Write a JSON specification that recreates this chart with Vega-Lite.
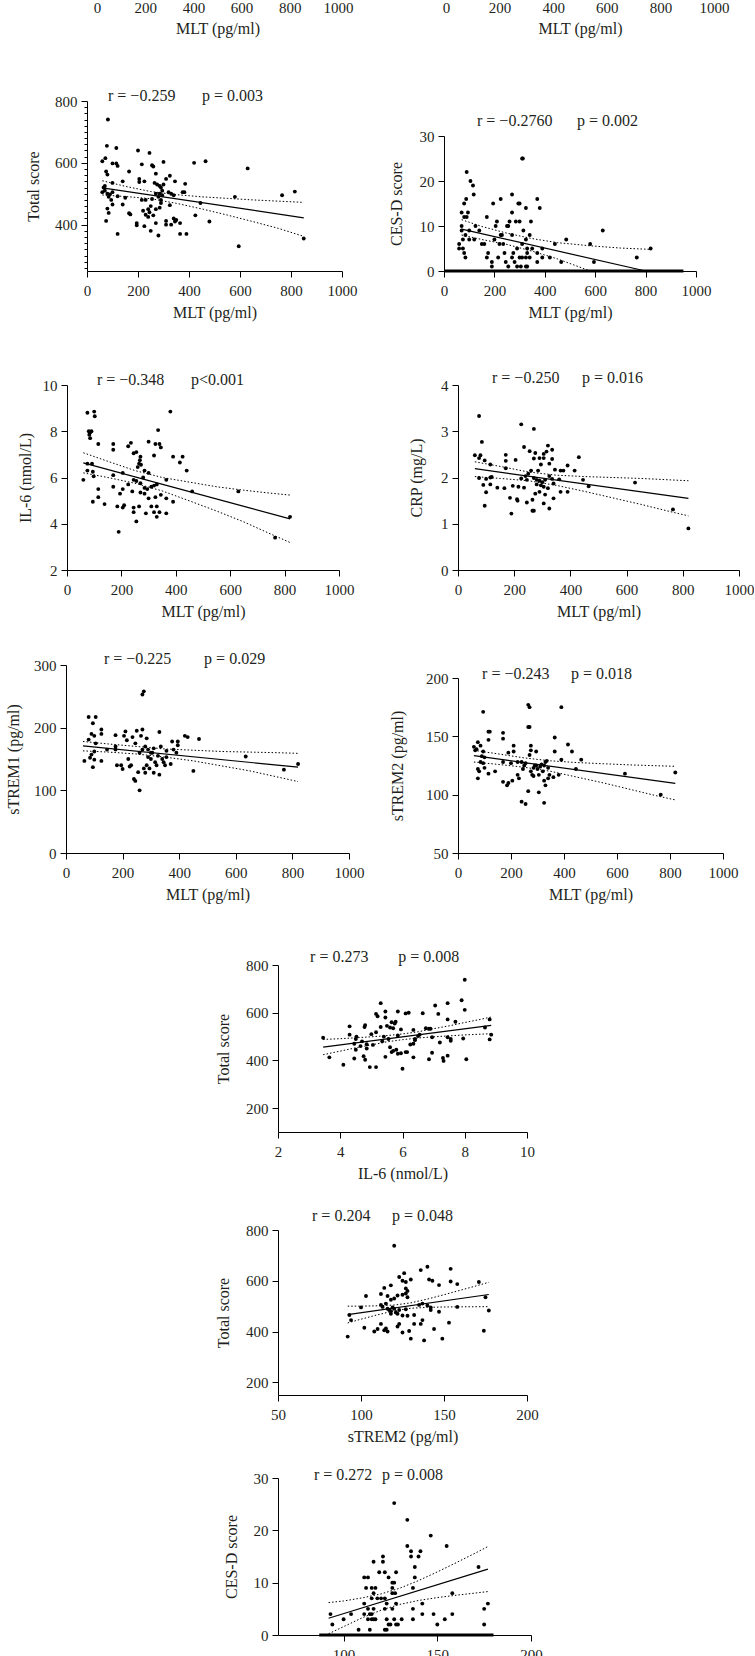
{
"$schema": "https://vega.github.io/schema/vega-lite/v6.json",
"padding": 0,
"background": "white",
"spacing": 0,
"config": {
  "view": {"stroke": null},
  "font": "Liberation Serif",
  "numberFormat": "d",
  "axis": {"domainColor": "#000", "tickColor": "#000", "tickSize": 6, "labelFont": "Liberation Serif", "labelFontSize": 15, "labelColor": "#231f20", "titleFont": "Liberation Serif", "titleFontSize": 16, "titleFontWeight": "normal", "titleColor": "#231f20", "grid": false, "labelFlush": false, "labelOverlap": false, "labelBound": false},
  "axisX": {"labelPadding": 6.5, "titlePadding": 6},
  "axisY": {"labelPadding": 4},
  "text": {"font": "Liberation Serif"}
},
"datasets": {
  "A_pts": [{"x":82,"y":740},{"x":78,"y":655},{"x":115,"y":648},{"x":200,"y":640},{"x":245,"y":632},{"x":72,"y":615},{"x":60,"y":605},{"x":100,"y":598},{"x":115,"y":598},{"x":120,"y":590},{"x":215,"y":595},{"x":255,"y":592},{"x":260,"y":588},{"x":300,"y":603},{"x":420,"y":600},{"x":465,"y":605},{"x":630,"y":582},{"x":75,"y":572},{"x":80,"y":562},{"x":165,"y":572},{"x":205,"y":548},{"x":225,"y":540},{"x":270,"y":565},{"x":310,"y":548},{"x":325,"y":558},{"x":345,"y":540},{"x":385,"y":532},{"x":140,"y":540},{"x":100,"y":535},{"x":70,"y":525},{"x":65,"y":520},{"x":60,"y":505},{"x":70,"y":510},{"x":80,"y":500},{"x":90,"y":498},{"x":100,"y":505},{"x":85,"y":490},{"x":95,"y":480},{"x":120,"y":492},{"x":150,"y":487},{"x":215,"y":480},{"x":230,"y":480},{"x":255,"y":483},{"x":265,"y":535},{"x":275,"y":530},{"x":285,"y":525},{"x":290,"y":520},{"x":295,"y":510},{"x":300,"y":530},{"x":285,"y":500},{"x":295,"y":495},{"x":280,"y":490},{"x":290,"y":480},{"x":270,"y":500},{"x":320,"y":505},{"x":330,"y":500},{"x":340,"y":495},{"x":375,"y":505},{"x":382,"y":505},{"x":250,"y":460},{"x":240,"y":450},{"x":245,"y":440},{"x":260,"y":430},{"x":270,"y":450},{"x":285,"y":455},{"x":290,"y":470},{"x":325,"y":463},{"x":100,"y":465},{"x":80,"y":452},{"x":85,"y":438},{"x":140,"y":465},{"x":165,"y":437},{"x":170,"y":433},{"x":195,"y":405},{"x":195,"y":398},{"x":220,"y":445},{"x":225,"y":395},{"x":240,"y":425},{"x":270,"y":405},{"x":280,"y":365},{"x":250,"y":380},{"x":310,"y":400},{"x":310,"y":412},{"x":330,"y":400},{"x":340,"y":420},{"x":345,"y":410},{"x":350,"y":415},{"x":365,"y":405},{"x":365,"y":370},{"x":390,"y":370},{"x":425,"y":430},{"x":480,"y":410},{"x":445,"y":470},{"x":580,"y":490},{"x":765,"y":495},{"x":815,"y":507},{"x":595,"y":330},{"x":850,"y":355},{"x":120,"y":370},{"x":75,"y":412},{"x":205,"y":538},{"x":230,"y":432}],
  "A_fit": [{"x":60,"y":519},{"x":850,"y":422}],
  "A_ci": [{"band":"u","x":60,"y":542},{"band":"u","x":150,"y":524},{"band":"u","x":250,"y":507},{"band":"u","x":350,"y":497},{"band":"u","x":450,"y":490},{"band":"u","x":550,"y":485},{"band":"u","x":650,"y":480},{"band":"u","x":750,"y":476},{"band":"u","x":850,"y":472},{"band":"l","x":60,"y":496},{"band":"l","x":150,"y":491},{"band":"l","x":250,"y":484},{"band":"l","x":350,"y":469},{"band":"l","x":450,"y":451},{"band":"l","x":550,"y":431},{"band":"l","x":650,"y":410},{"band":"l","x":750,"y":388},{"band":"l","x":850,"y":362}],
  "A_txt": [{"x":82.4,"y":816.2,"t":"r = −0.259"},{"x":451,"y":816.2,"t":"p = 0.003"}],
  "B_pts": [{"x":310,"y":25},{"x":313,"y":25},{"x":90,"y":22},{"x":105,"y":20},{"x":115,"y":19},{"x":118,"y":17},{"x":88,"y":16},{"x":225,"y":16},{"x":370,"y":16},{"x":270,"y":17},{"x":80,"y":15},{"x":195,"y":15},{"x":295,"y":15},{"x":300,"y":15},{"x":380,"y":14},{"x":325,"y":14},{"x":70,"y":13},{"x":95,"y":13},{"x":270,"y":13},{"x":80,"y":12},{"x":90,"y":12},{"x":170,"y":12},{"x":210,"y":11},{"x":260,"y":11},{"x":285,"y":11},{"x":300,"y":11},{"x":345,"y":11},{"x":70,"y":10},{"x":125,"y":10},{"x":205,"y":10},{"x":250,"y":10},{"x":255,"y":10},{"x":630,"y":9},{"x":70,"y":9},{"x":140,"y":9},{"x":100,"y":9},{"x":315,"y":9},{"x":85,"y":8},{"x":225,"y":8},{"x":230,"y":8},{"x":270,"y":8},{"x":340,"y":8},{"x":75,"y":7},{"x":100,"y":7},{"x":120,"y":7},{"x":200,"y":7},{"x":325,"y":7},{"x":485,"y":7},{"x":60,"y":6},{"x":150,"y":6},{"x":160,"y":6},{"x":220,"y":6},{"x":235,"y":6},{"x":310,"y":6},{"x":440,"y":6},{"x":580,"y":6},{"x":820,"y":5},{"x":60,"y":5},{"x":75,"y":5},{"x":290,"y":5},{"x":330,"y":5},{"x":350,"y":5},{"x":390,"y":5},{"x":80,"y":4},{"x":175,"y":4},{"x":240,"y":4},{"x":275,"y":4},{"x":330,"y":4},{"x":370,"y":4},{"x":85,"y":3},{"x":170,"y":3},{"x":215,"y":3},{"x":270,"y":3},{"x":300,"y":3},{"x":310,"y":3},{"x":325,"y":3},{"x":340,"y":3},{"x":390,"y":3},{"x":420,"y":3},{"x":765,"y":3},{"x":190,"y":2},{"x":245,"y":2},{"x":280,"y":2},{"x":370,"y":2},{"x":465,"y":2},{"x":595,"y":2},{"x":190,"y":1},{"x":255,"y":1},{"x":290,"y":1},{"x":305,"y":1},{"x":325,"y":1},{"x":330,"y":1}],
  "B_zero": [{"x":0,"x2":950,"y":0}],
  "B_fit": [{"x":70,"y":9.3},{"x":800,"y":0}],
  "B_ci": [{"band":"u","x":70,"y":11.4},{"band":"u","x":150,"y":9.9},{"band":"u","x":250,"y":8.4},{"band":"u","x":350,"y":7.2},{"band":"u","x":450,"y":6.3},{"band":"u","x":580,"y":5.6},{"band":"u","x":700,"y":5.1},{"band":"u","x":820,"y":4.8},{"band":"l","x":70,"y":8.0},{"band":"l","x":150,"y":7.0},{"band":"l","x":250,"y":5.9},{"band":"l","x":350,"y":4.4},{"band":"l","x":450,"y":2.7},{"band":"l","x":580,"y":0}],
  "B_txt": [{"x":131,"y":33.33,"t":"r = −0.2760"},{"x":528,"y":33.33,"t":"p = 0.002"}],
  "C_pts": [{"x":75,"y":8.8},{"x":100,"y":8.85},{"x":102,"y":8.65},{"x":380,"y":8.85},{"x":80,"y":8.0},{"x":85,"y":7.95},{"x":90,"y":8.0},{"x":82,"y":7.85},{"x":85,"y":7.7},{"x":335,"y":8.05},{"x":115,"y":7.45},{"x":170,"y":7.45},{"x":170,"y":7.2},{"x":225,"y":7.35},{"x":235,"y":7.5},{"x":300,"y":7.55},{"x":325,"y":7.45},{"x":340,"y":7.45},{"x":345,"y":7.3},{"x":245,"y":7.05},{"x":255,"y":7.1},{"x":320,"y":6.95},{"x":270,"y":6.9},{"x":268,"y":6.75},{"x":265,"y":6.6},{"x":272,"y":6.55},{"x":260,"y":6.45},{"x":390,"y":6.9},{"x":425,"y":6.9},{"x":415,"y":6.65},{"x":440,"y":6.3},{"x":75,"y":6.6},{"x":92,"y":6.6},{"x":60,"y":5.9},{"x":75,"y":6.3},{"x":95,"y":6.25},{"x":98,"y":6.05},{"x":170,"y":6.1},{"x":205,"y":6.2},{"x":285,"y":6.3},{"x":300,"y":6.2},{"x":280,"y":6.0},{"x":245,"y":5.9},{"x":255,"y":5.85},{"x":365,"y":5.9},{"x":170,"y":5.6},{"x":115,"y":5.5},{"x":205,"y":5.5},{"x":225,"y":5.7},{"x":240,"y":5.4},{"x":270,"y":5.75},{"x":285,"y":5.55},{"x":295,"y":5.5},{"x":310,"y":5.6},{"x":320,"y":5.65},{"x":330,"y":5.7},{"x":345,"y":5.25},{"x":365,"y":5.1},{"x":460,"y":5.4},{"x":630,"y":5.4},{"x":115,"y":5.15},{"x":195,"y":5.3},{"x":270,"y":5.35},{"x":285,"y":5.3},{"x":300,"y":5.1},{"x":325,"y":5.15},{"x":95,"y":4.95},{"x":138,"y":4.85},{"x":185,"y":4.75},{"x":205,"y":4.7},{"x":210,"y":4.8},{"x":245,"y":4.7},{"x":245,"y":4.5},{"x":265,"y":4.75},{"x":310,"y":4.75},{"x":330,"y":4.75},{"x":290,"y":4.45},{"x":320,"y":4.5},{"x":340,"y":4.5},{"x":365,"y":4.45},{"x":390,"y":4.95},{"x":255,"y":4.1},{"x":330,"y":4.3},{"x":190,"y":3.65},{"x":765,"y":3.4},{"x":820,"y":4.3}],
  "C_fit": [{"x":60,"y":6.63},{"x":820,"y":4.21}],
  "C_ci": [{"band":"u","x":60,"y":7.07},{"band":"u","x":150,"y":6.7},{"band":"u","x":250,"y":6.3},{"band":"u","x":350,"y":6.0},{"band":"u","x":450,"y":5.8},{"band":"u","x":550,"y":5.6},{"band":"u","x":650,"y":5.45},{"band":"u","x":750,"y":5.32},{"band":"u","x":820,"y":5.24},{"band":"l","x":60,"y":6.2},{"band":"l","x":150,"y":6.0},{"band":"l","x":250,"y":5.75},{"band":"l","x":350,"y":5.42},{"band":"l","x":450,"y":4.99},{"band":"l","x":550,"y":4.55},{"band":"l","x":650,"y":4.08},{"band":"l","x":750,"y":3.55},{"band":"l","x":820,"y":3.19}],
  "C_txt": [{"x":110,"y":10.22,"t":"r = −0.348"},{"x":456,"y":10.22,"t":"p<0.001"}],
  "D_pts": [{"x":75,"y":3.33},{"x":225,"y":3.15},{"x":270,"y":3.05},{"x":85,"y":2.77},{"x":60,"y":2.48},{"x":80,"y":2.48},{"x":170,"y":2.49},{"x":75,"y":2.42},{"x":95,"y":2.37},{"x":170,"y":2.36},{"x":205,"y":2.38},{"x":115,"y":2.28},{"x":235,"y":2.66},{"x":255,"y":2.57},{"x":275,"y":2.53},{"x":320,"y":2.69},{"x":335,"y":2.6},{"x":305,"y":2.51},{"x":315,"y":2.56},{"x":290,"y":2.42},{"x":270,"y":2.41},{"x":305,"y":2.42},{"x":325,"y":2.3},{"x":335,"y":2.4},{"x":295,"y":2.28},{"x":390,"y":2.26},{"x":430,"y":2.44},{"x":415,"y":2.15},{"x":170,"y":2.2},{"x":345,"y":2.17},{"x":365,"y":2.15},{"x":375,"y":2.15},{"x":260,"y":2.15},{"x":250,"y":2.08},{"x":240,"y":2.03},{"x":285,"y":2.15},{"x":120,"y":2.01},{"x":115,"y":2.0},{"x":75,"y":1.99},{"x":100,"y":1.97},{"x":225,"y":1.98},{"x":245,"y":1.95},{"x":270,"y":1.99},{"x":280,"y":1.95},{"x":325,"y":2.03},{"x":335,"y":1.97},{"x":360,"y":1.96},{"x":445,"y":1.95},{"x":290,"y":1.93},{"x":300,"y":1.9},{"x":310,"y":1.95},{"x":90,"y":1.84},{"x":115,"y":1.85},{"x":140,"y":1.78},{"x":165,"y":1.77},{"x":195,"y":1.82},{"x":215,"y":1.8},{"x":235,"y":1.78},{"x":280,"y":1.85},{"x":295,"y":1.83},{"x":305,"y":1.8},{"x":320,"y":1.77},{"x":340,"y":1.87},{"x":465,"y":1.81},{"x":100,"y":1.68},{"x":185,"y":1.56},{"x":210,"y":1.53},{"x":212,"y":1.5},{"x":245,"y":1.46},{"x":265,"y":1.52},{"x":275,"y":1.65},{"x":290,"y":1.69},{"x":310,"y":1.63},{"x":340,"y":1.55},{"x":365,"y":1.69},{"x":390,"y":1.69},{"x":630,"y":1.89},{"x":95,"y":1.39},{"x":190,"y":1.22},{"x":265,"y":1.28},{"x":270,"y":1.28},{"x":305,"y":1.44},{"x":325,"y":1.33},{"x":765,"y":1.31},{"x":820,"y":0.9}],
  "D_fit": [{"x":60,"y":2.19},{"x":820,"y":1.55}],
  "D_ci": [{"band":"u","x":60,"y":2.34},{"band":"u","x":150,"y":2.24},{"band":"u","x":250,"y":2.12},{"band":"u","x":350,"y":2.05},{"band":"u","x":450,"y":2.02},{"band":"u","x":550,"y":2.0},{"band":"u","x":650,"y":1.98},{"band":"u","x":750,"y":1.95},{"band":"u","x":820,"y":1.93},{"band":"l","x":60,"y":2.02},{"band":"l","x":150,"y":1.98},{"band":"l","x":250,"y":1.93},{"band":"l","x":350,"y":1.83},{"band":"l","x":450,"y":1.7},{"band":"l","x":550,"y":1.56},{"band":"l","x":650,"y":1.42},{"band":"l","x":750,"y":1.27},{"band":"l","x":820,"y":1.17}],
  "D_txt": [{"x":121,"y":4.15,"t":"r = −0.250"},{"x":441,"y":4.15,"t":"p = 0.016"}],
  "E_pts": [{"x":270,"y":253},{"x":275,"y":258},{"x":80,"y":217},{"x":105,"y":217},{"x":95,"y":207},{"x":125,"y":197},{"x":125,"y":190},{"x":90,"y":190},{"x":100,"y":187},{"x":80,"y":181},{"x":105,"y":175},{"x":100,"y":162},{"x":90,"y":157},{"x":85,"y":152},{"x":65,"y":147},{"x":95,"y":137},{"x":100,"y":149},{"x":125,"y":147},{"x":145,"y":165},{"x":175,"y":188},{"x":175,"y":170},{"x":175,"y":165},{"x":180,"y":140},{"x":195,"y":140},{"x":200,"y":134},{"x":205,"y":187},{"x":210,"y":194},{"x":215,"y":180},{"x":220,"y":150},{"x":225,"y":138},{"x":230,"y":140},{"x":235,"y":185},{"x":245,"y":175},{"x":250,"y":195},{"x":270,"y":197},{"x":265,"y":187},{"x":270,"y":165},{"x":260,"y":160},{"x":285,"y":183},{"x":280,"y":170},{"x":290,"y":165},{"x":240,"y":118},{"x":245,"y":115},{"x":255,"y":129},{"x":260,"y":100},{"x":275,"y":135},{"x":280,"y":128},{"x":285,"y":140},{"x":295,"y":135},{"x":300,"y":150},{"x":305,"y":160},{"x":310,"y":167},{"x":315,"y":145},{"x":320,"y":140},{"x":325,"y":155},{"x":330,"y":125},{"x":330,"y":193},{"x":335,"y":170},{"x":340,"y":150},{"x":345,"y":145},{"x":350,"y":140},{"x":355,"y":153},{"x":355,"y":163},{"x":370,"y":142},{"x":375,"y":178},{"x":380,"y":165},{"x":390,"y":160},{"x":395,"y":172},{"x":395,"y":178},{"x":420,"y":187},{"x":430,"y":185},{"x":450,"y":131},{"x":470,"y":182},{"x":635,"y":154},{"x":770,"y":133},{"x":820,"y":142},{"x":310,"y":128},{"x":300,"y":160},{"x":290,"y":153}],
  "E_fit": [{"x":60,"y":171},{"x":820,"y":137}],
  "E_ci": [{"band":"u","x":60,"y":178},{"band":"u","x":150,"y":174},{"band":"u","x":250,"y":170},{"band":"u","x":350,"y":166},{"band":"u","x":450,"y":164},{"band":"u","x":550,"y":162},{"band":"u","x":650,"y":161},{"band":"u","x":750,"y":160},{"band":"u","x":820,"y":159},{"band":"l","x":60,"y":163},{"band":"l","x":150,"y":161},{"band":"l","x":250,"y":158},{"band":"l","x":350,"y":153},{"band":"l","x":450,"y":147},{"band":"l","x":550,"y":139},{"band":"l","x":650,"y":131},{"band":"l","x":750,"y":121},{"band":"l","x":820,"y":114}],
  "E_txt": [{"x":134,"y":309.6,"t":"r = −0.225"},{"x":488,"y":309.6,"t":"p = 0.029"}],
  "F_pts": [{"x":265,"y":177},{"x":270,"y":175},{"x":390,"y":175},{"x":95,"y":171},{"x":115,"y":154},{"x":120,"y":154},{"x":170,"y":153},{"x":265,"y":158},{"x":270,"y":158},{"x":115,"y":147},{"x":170,"y":148},{"x":365,"y":149},{"x":415,"y":143},{"x":60,"y":141},{"x":75,"y":145},{"x":85,"y":142},{"x":210,"y":142},{"x":275,"y":142},{"x":70,"y":139},{"x":95,"y":137},{"x":210,"y":137},{"x":275,"y":138},{"x":295,"y":137},{"x":365,"y":137},{"x":430,"y":137},{"x":65,"y":138},{"x":90,"y":133},{"x":100,"y":132},{"x":190,"y":136},{"x":225,"y":128},{"x":250,"y":125},{"x":270,"y":134},{"x":290,"y":125},{"x":325,"y":125},{"x":335,"y":129},{"x":390,"y":130},{"x":465,"y":130},{"x":95,"y":127},{"x":85,"y":128},{"x":170,"y":128},{"x":200,"y":127},{"x":240,"y":128},{"x":245,"y":122},{"x":255,"y":127},{"x":275,"y":120},{"x":280,"y":117},{"x":285,"y":123},{"x":295,"y":125},{"x":300,"y":122},{"x":310,"y":124},{"x":315,"y":126},{"x":320,"y":120},{"x":330,"y":128},{"x":340,"y":123},{"x":345,"y":117},{"x":380,"y":117},{"x":445,"y":122},{"x":75,"y":122},{"x":80,"y":120},{"x":140,"y":120},{"x":115,"y":118},{"x":225,"y":117},{"x":230,"y":114},{"x":285,"y":116},{"x":305,"y":117},{"x":325,"y":112},{"x":330,"y":108},{"x":340,"y":114},{"x":360,"y":115},{"x":170,"y":111},{"x":190,"y":110},{"x":185,"y":108},{"x":205,"y":112},{"x":265,"y":103},{"x":305,"y":102},{"x":240,"y":94},{"x":255,"y":92},{"x":325,"y":93},{"x":630,"y":118},{"x":765,"y":100},{"x":820,"y":119},{"x":75,"y":114},{"x":100,"y":123}],
  "F_fit": [{"x":60,"y":133.4},{"x":820,"y":109.6}],
  "F_ci": [{"band":"u","x":60,"y":138},{"band":"u","x":150,"y":135},{"band":"u","x":250,"y":131.5},{"band":"u","x":350,"y":129},{"band":"u","x":450,"y":127.5},{"band":"u","x":550,"y":126.5},{"band":"u","x":650,"y":125.5},{"band":"u","x":750,"y":124.8},{"band":"u","x":820,"y":124.3},{"band":"l","x":60,"y":128},{"band":"l","x":150,"y":126},{"band":"l","x":250,"y":123.5},{"band":"l","x":350,"y":120},{"band":"l","x":450,"y":115},{"band":"l","x":550,"y":110},{"band":"l","x":650,"y":104.5},{"band":"l","x":750,"y":99},{"band":"l","x":820,"y":95.5}],
  "F_txt": [{"x":91,"y":203.4,"t":"r = −0.243"},{"x":426,"y":203.4,"t":"p = 0.018"}],
  "G_pts": [{"x":8.0,"y":738},{"x":7.9,"y":652},{"x":8.0,"y":612},{"x":7.45,"y":640},{"x":7.05,"y":630},{"x":7.15,"y":595},{"x":6.65,"y":598},{"x":6.2,"y":600},{"x":6.1,"y":597},{"x":5.85,"y":605},{"x":5.45,"y":605},{"x":5.45,"y":580},{"x":5.3,"y":640},{"x":5.15,"y":595},{"x":5.2,"y":585},{"x":4.8,"y":548},{"x":4.78,"y":540},{"x":4.3,"y":543},{"x":7.45,"y":572},{"x":7.7,"y":562},{"x":8.8,"y":572},{"x":8.65,"y":538},{"x":8.85,"y":508},{"x":8.8,"y":488},{"x":7.95,"y":492},{"x":7.55,"y":490},{"x":7.55,"y":482},{"x":7.45,"y":497},{"x":7.45,"y":420},{"x":8.05,"y":405},{"x":7.3,"y":410},{"x":7.32,"y":398},{"x":6.95,"y":497},{"x":6.85,"y":533},{"x":6.9,"y":533},{"x":6.75,"y":535},{"x":6.35,"y":528},{"x":6.55,"y":508},{"x":6.5,"y":502},{"x":6.4,"y":490},{"x":6.4,"y":485},{"x":6.35,"y":470},{"x":6.25,"y":467},{"x":6.35,"y":413},{"x":6.85,"y":405},{"x":6.95,"y":432},{"x":7.2,"y":475},{"x":5.95,"y":530},{"x":5.85,"y":505},{"x":5.7,"y":535},{"x":5.75,"y":555},{"x":5.78,"y":562},{"x":5.65,"y":560},{"x":5.6,"y":538},{"x":5.5,"y":545},{"x":5.55,"y":490},{"x":5.4,"y":500},{"x":5.35,"y":480},{"x":5.3,"y":540},{"x":5.15,"y":518},{"x":5.0,"y":510},{"x":5.05,"y":465},{"x":5.6,"y":455},{"x":5.7,"y":440},{"x":5.65,"y":435},{"x":5.8,"y":445},{"x":5.85,"y":428},{"x":5.95,"y":430},{"x":6.1,"y":435},{"x":6.15,"y":435},{"x":5.45,"y":415},{"x":6.0,"y":365},{"x":5.15,"y":372},{"x":4.95,"y":372},{"x":4.85,"y":450},{"x":4.85,"y":468},{"x":4.7,"y":480},{"x":4.65,"y":460},{"x":4.5,"y":490},{"x":4.5,"y":445},{"x":4.45,"y":470},{"x":4.45,"y":408},{"x":4.75,"y":418},{"x":4.8,"y":403},{"x":4.3,"y":508},{"x":4.1,"y":382},{"x":3.65,"y":413},{"x":3.45,"y":495},{"x":4.52,"y":500}],
  "G_fit": [{"x":3.45,"y":456},{"x":8.85,"y":547}],
  "G_ci": [{"band":"u","x":3.45,"y":488},{"band":"u","x":4,"y":491},{"band":"u","x":4.5,"y":495},{"band":"u","x":5,"y":499},{"band":"u","x":5.5,"y":504},{"band":"u","x":6,"y":511},{"band":"u","x":6.5,"y":520},{"band":"u","x":7,"y":533},{"band":"u","x":7.5,"y":545},{"band":"u","x":8,"y":559},{"band":"u","x":8.5,"y":572},{"band":"u","x":8.85,"y":582},{"band":"l","x":3.45,"y":424},{"band":"l","x":4,"y":439},{"band":"l","x":4.5,"y":453},{"band":"l","x":5,"y":465},{"band":"l","x":5.5,"y":478},{"band":"l","x":6,"y":487},{"band":"l","x":6.5,"y":494},{"band":"l","x":7,"y":499},{"band":"l","x":7.5,"y":503},{"band":"l","x":8,"y":507},{"band":"l","x":8.5,"y":510},{"band":"l","x":8.85,"y":512}],
  "G_txt": [{"x":3.03,"y":833.5,"t":"r = 0.273"},{"x":5.86,"y":833.5,"t":"p = 0.008"}],
  "H_pts": [{"x":120,"y":738},{"x":140,"y":655},{"x":154,"y":647},{"x":136,"y":642},{"x":141,"y":605},{"x":143,"y":600},{"x":147,"y":583},{"x":154,"y":597},{"x":158,"y":587},{"x":171,"y":595},{"x":130,"y":605},{"x":125,"y":600},{"x":127,"y":595},{"x":123,"y":615},{"x":126,"y":630},{"x":118,"y":582},{"x":127,"y":570},{"x":128,"y":560},{"x":127,"y":550},{"x":125,"y":545},{"x":128,"y":535},{"x":114,"y":572},{"x":112,"y":548},{"x":103,"y":540},{"x":100,"y":495},{"x":116,"y":540},{"x":118,"y":525},{"x":120,"y":530},{"x":122,"y":542},{"x":115,"y":510},{"x":112,"y":505},{"x":113,"y":497},{"x":116,"y":490},{"x":117,"y":485},{"x":118,"y":480},{"x":119,"y":495},{"x":120,"y":490},{"x":121,"y":475},{"x":122,"y":470},{"x":123,"y":485},{"x":125,"y":463},{"x":127,"y":488},{"x":128,"y":462},{"x":132,"y":465},{"x":135,"y":505},{"x":137,"y":510},{"x":140,"y":503},{"x":142,"y":495},{"x":142,"y":485},{"x":147,"y":478},{"x":158,"y":497},{"x":175,"y":535},{"x":177,"y":483},{"x":93,"y":465},{"x":94,"y":445},{"x":92,"y":380},{"x":102,"y":415},{"x":108,"y":400},{"x":110,"y":410},{"x":112,"y":430},{"x":114,"y":405},{"x":115,"y":412},{"x":116,"y":400},{"x":118,"y":470},{"x":122,"y":420},{"x":123,"y":430},{"x":125,"y":396},{"x":129,"y":402},{"x":130,"y":372},{"x":136,"y":430},{"x":137,"y":445},{"x":138,"y":365},{"x":144,"y":410},{"x":149,"y":372},{"x":153,"y":435},{"x":174,"y":403},{"x":132,"y":430}],
  "H_fit": [{"x":92,"y":467},{"x":177,"y":546}],
  "H_ci": [{"band":"u","x":92,"y":500},{"band":"u","x":100,"y":500},{"band":"u","x":110,"y":501.5},{"band":"u","x":120,"y":504.4},{"band":"u","x":130,"y":513},{"band":"u","x":140,"y":528},{"band":"u","x":150,"y":545},{"band":"u","x":160,"y":563},{"band":"u","x":170,"y":581},{"band":"u","x":177,"y":594},{"band":"l","x":92,"y":434},{"band":"l","x":100,"y":448.6},{"band":"l","x":110,"y":466},{"band":"l","x":120,"y":481.6},{"band":"l","x":130,"y":491.6},{"band":"l","x":140,"y":495.3},{"band":"l","x":150,"y":496.7},{"band":"l","x":160,"y":497.4},{"band":"l","x":170,"y":497.8},{"band":"l","x":177,"y":498}],
  "H_txt": [{"x":70.5,"y":855.2,"t":"r = 0.204"},{"x":118.7,"y":855.2,"t":"p = 0.048"}],
  "I_pts": [{"x":127,"y":25.2},{"x":134,"y":22},{"x":146.5,"y":19},{"x":134,"y":17},{"x":155,"y":17},{"x":136,"y":16},{"x":141,"y":16},{"x":136,"y":15},{"x":140,"y":15},{"x":138,"y":13},{"x":121,"y":15},{"x":121,"y":14},{"x":116,"y":14},{"x":172,"y":13},{"x":119,"y":12},{"x":122,"y":12},{"x":128,"y":12},{"x":111,"y":11},{"x":113,"y":11},{"x":124,"y":11},{"x":138,"y":11},{"x":126,"y":10},{"x":127,"y":10},{"x":112,"y":9},{"x":115,"y":9},{"x":117,"y":9},{"x":126,"y":9},{"x":137,"y":9},{"x":116,"y":8},{"x":126,"y":8},{"x":127.5,"y":8},{"x":158,"y":8},{"x":118,"y":7},{"x":120,"y":7},{"x":122,"y":7},{"x":115,"y":7},{"x":142,"y":6},{"x":111,"y":6},{"x":123,"y":6},{"x":128,"y":6},{"x":177,"y":6},{"x":113,"y":5},{"x":116,"y":5},{"x":122,"y":5},{"x":126,"y":5},{"x":137,"y":5},{"x":175,"y":5},{"x":93,"y":4},{"x":104,"y":4},{"x":111,"y":4},{"x":114,"y":4},{"x":115,"y":4},{"x":142,"y":4},{"x":148,"y":4},{"x":158,"y":4},{"x":113,"y":3},{"x":115,"y":3},{"x":116,"y":3},{"x":117,"y":3},{"x":123,"y":3},{"x":127,"y":3},{"x":131,"y":3},{"x":137,"y":3},{"x":154,"y":3},{"x":100,"y":3},{"x":94,"y":2},{"x":124,"y":2},{"x":125,"y":2},{"x":128,"y":2},{"x":129,"y":2},{"x":150,"y":2},{"x":175,"y":2},{"x":108,"y":1},{"x":114,"y":1},{"x":122,"y":1},{"x":123,"y":1}],
  "I_zero": [{"x":87,"x2":180,"y":0}],
  "I_fit": [{"x":92,"y":3.2},{"x":177,"y":12.6}],
  "I_ci": [{"band":"u","x":92,"y":6.2},{"band":"u","x":100,"y":6.5},{"band":"u","x":110,"y":7.1},{"band":"u","x":120,"y":7.85},{"band":"u","x":130,"y":8.95},{"band":"u","x":140,"y":10.4},{"band":"u","x":150,"y":12.05},{"band":"u","x":160,"y":13.8},{"band":"u","x":170,"y":15.6},{"band":"u","x":177,"y":16.9},{"band":"l","x":92,"y":0.24},{"band":"l","x":100,"y":1.6},{"band":"l","x":110,"y":3.3},{"band":"l","x":120,"y":4.75},{"band":"l","x":130,"y":5.85},{"band":"l","x":140,"y":6.6},{"band":"l","x":150,"y":7.15},{"band":"l","x":160,"y":7.6},{"band":"l","x":170,"y":8.0},{"band":"l","x":177,"y":8.3}],
  "I_txt": [{"x":84.2,"y":30.57,"t":"r = 0.272"},{"x":120.5,"y":30.57,"t":"p = 0.008"}]
},
"vconcat": [
  {"spacing": 0, "hconcat": [
    {"width": 93, "height": 1, "data": {"values": []}, "mark": "point"},
    {"width": 241, "height": 1, "data": {"values": []}, "mark": "point",
     "encoding": {"x": {"field": "x", "type": "quantitative", "scale": {"domain": [0, 1000], "nice": false, "zero": false}, "axis": {"values": [0, 200, 400, 600, 800, 1000], "format": "d", "title": "MLT (pg/ml)", "domain": false, "ticks": false, "tickSize": 0, "labelPadding": -1, "titlePadding": 5}}}},
    {"width": 89, "height": 1, "data": {"values": []}, "mark": "point"},
    {"width": 268, "height": 1, "data": {"values": []}, "mark": "point",
     "encoding": {"x": {"field": "x", "type": "quantitative", "scale": {"domain": [0, 1000], "nice": false, "zero": false}, "axis": {"values": [0, 200, 400, 600, 800, 1000], "format": "d", "title": "MLT (pg/ml)", "domain": false, "ticks": false, "tickSize": 0, "labelPadding": -1, "titlePadding": 5}}}}
  ]},
  {"width": 1, "height": 51, "data": {"values": []}, "mark": "point"},
  {"spacing": 0, "hconcat": [
    {"width": 25, "height": 1, "data": {"values": []}, "mark": "point"},
    {"width": 255, "height": 170,
     "encoding": {
       "x": {"field": "x", "type": "quantitative", "scale": {"domain": [0, 1000], "nice": false, "zero": false}, "axis": {"values": [0, 200, 400, 600, 800, 1000], "format": "d", "title": "MLT (pg/ml)"}},
       "y": {"field": "y", "type": "quantitative", "scale": {"domain": [250, 800], "nice": false, "zero": false}, "axis": {"values": [260,280,300,320,340,360,380,400,420,440,460,480,500,520,540,560,580,600,620,640,660,680,700,720,740,760,780,800], "format": "d", "labelExpr": "datum.value % 200 === 0 ? datum.label : ''", "tickSize": {"condition": {"test": "datum.value % 200 === 0", "value": 6}, "value": 3}, "title": "Total score", "titlePadding": 13}}
     },
     "layer": [
       {"data": {"name": "A_pts"}, "mark": {"type": "circle", "size": 15, "color": "#000", "opacity": 1}},
       {"data": {"name": "A_fit"}, "mark": {"type": "line", "color": "#000", "strokeWidth": 1.2}, "encoding": {}},
       {"data": {"name": "A_ci"}, "mark": {"type": "line", "color": "#000", "strokeWidth": 1, "strokeDash": [1.5, 2]}, "encoding": {"detail": {"field": "band"}}},
       {"data": {"name": "A_txt"}, "mark": {"type": "text", "align": "left", "baseline": "middle", "fontSize": 16, "color": "#231f20"}, "encoding": {"text": {"field": "t"}}}
     ]},
    {"width": 31, "height": 1, "data": {"values": []}, "mark": "point"},
    {"spacing": 0, "vconcat": [
      {"width": 1, "height": 12, "data": {"values": []}, "mark": "point"},
      {"width": 252, "height": 135,
       "encoding": {
         "x": {"field": "x", "type": "quantitative", "scale": {"domain": [0, 1000], "nice": false, "zero": false}, "axis": {"values": [0, 200, 400, 600, 800, 1000], "format": "d", "title": "MLT (pg/ml)"}},
         "y": {"field": "y", "type": "quantitative", "scale": {"domain": [0, 30], "nice": false, "zero": false}, "axis": {"values": [0, 10, 20, 30], "format": "d", "title": "CES-D score", "titlePadding": 15}}
       },
       "layer": [
         {"data": {"name": "B_zero"}, "mark": {"type": "rule", "color": "#000", "strokeWidth": 3}, "encoding": {"x2": {"field": "x2"}}},
         {"data": {"name": "B_pts"}, "mark": {"type": "circle", "size": 15, "color": "#000", "opacity": 1}},
         {"data": {"name": "B_fit"}, "mark": {"type": "line", "color": "#000", "strokeWidth": 1.2}, "encoding": {}},
         {"data": {"name": "B_ci"}, "mark": {"type": "line", "color": "#000", "strokeWidth": 1, "strokeDash": [1.5, 2]}, "encoding": {"detail": {"field": "band"}}},
         {"data": {"name": "B_txt"}, "mark": {"type": "text", "align": "left", "baseline": "middle", "fontSize": 16, "color": "#231f20"}, "encoding": {"text": {"field": "t"}}}
       ]}
    ]}
  ]},
  {"width": 1, "height": 49, "data": {"values": []}, "mark": "point"},
  {"spacing": 0, "hconcat": [
    {"width": 17, "height": 1, "data": {"values": []}, "mark": "point"},
    {"width": 272, "height": 185,
     "encoding": {
       "x": {"field": "x", "type": "quantitative", "scale": {"domain": [0, 1000], "nice": false, "zero": false}, "axis": {"values": [0, 200, 400, 600, 800, 1000], "format": "d", "title": "MLT (pg/ml)"}},
       "y": {"field": "y", "type": "quantitative", "scale": {"domain": [2, 10], "nice": false, "zero": false}, "axis": {"values": [2, 4, 6, 8, 10], "format": "d", "title": "IL-6 (nmol/L)", "titlePadding": 9}}
     },
     "layer": [
       {"data": {"name": "C_pts"}, "mark": {"type": "circle", "size": 15, "color": "#000", "opacity": 1}},
       {"data": {"name": "C_fit"}, "mark": {"type": "line", "color": "#000", "strokeWidth": 1.2}, "encoding": {}},
       {"data": {"name": "C_ci"}, "mark": {"type": "line", "color": "#000", "strokeWidth": 1, "strokeDash": [1.5, 2]}, "encoding": {"detail": {"field": "band"}}},
       {"data": {"name": "C_txt"}, "mark": {"type": "text", "align": "left", "baseline": "middle", "fontSize": 16, "color": "#231f20"}, "encoding": {"text": {"field": "t"}}}
     ]},
    {"width": 54, "height": 1, "data": {"values": []}, "mark": "point"},
    {"width": 281, "height": 185,
     "encoding": {
       "x": {"field": "x", "type": "quantitative", "scale": {"domain": [0, 1000], "nice": false, "zero": false}, "axis": {"values": [0, 200, 400, 600, 800, 1000], "format": "d", "title": "MLT (pg/ml)"}},
       "y": {"field": "y", "type": "quantitative", "scale": {"domain": [0, 4], "nice": false, "zero": false}, "axis": {"values": [0, 1, 2, 3, 4], "format": "d", "title": "CRP (mg/L)", "titlePadding": 16}}
     },
     "layer": [
       {"data": {"name": "D_pts"}, "mark": {"type": "circle", "size": 15, "color": "#000", "opacity": 1}},
       {"data": {"name": "D_fit"}, "mark": {"type": "line", "color": "#000", "strokeWidth": 1.2}, "encoding": {}},
       {"data": {"name": "D_ci"}, "mark": {"type": "line", "color": "#000", "strokeWidth": 1, "strokeDash": [1.5, 2]}, "encoding": {"detail": {"field": "band"}}},
       {"data": {"name": "D_txt"}, "mark": {"type": "text", "align": "left", "baseline": "middle", "fontSize": 16, "color": "#231f20"}, "encoding": {"text": {"field": "t"}}}
     ]}
  ]},
  {"width": 1, "height": 30, "data": {"values": []}, "mark": "point"},
  {"spacing": 0, "hconcat": [
    {"width": 5, "height": 1, "data": {"values": []}, "mark": "point"},
    {"width": 283, "height": 188,
     "encoding": {
       "x": {"field": "x", "type": "quantitative", "scale": {"domain": [0, 1000], "nice": false, "zero": false}, "axis": {"values": [0, 200, 400, 600, 800, 1000], "format": "d", "title": "MLT (pg/ml)"}},
       "y": {"field": "y", "type": "quantitative", "scale": {"domain": [0, 300], "nice": false, "zero": false}, "axis": {"values": [0, 100, 200, 300], "format": "d", "title": "sTREM1 (pg/ml)", "titlePadding": 12}}
     },
     "layer": [
       {"data": {"name": "E_pts"}, "mark": {"type": "circle", "size": 15, "color": "#000", "opacity": 1}},
       {"data": {"name": "E_fit"}, "mark": {"type": "line", "color": "#000", "strokeWidth": 1.2}, "encoding": {}},
       {"data": {"name": "E_ci"}, "mark": {"type": "line", "color": "#000", "strokeWidth": 1, "strokeDash": [1.5, 2]}, "encoding": {"detail": {"field": "band"}}},
       {"data": {"name": "E_txt"}, "mark": {"type": "text", "align": "left", "baseline": "middle", "fontSize": 16, "color": "#231f20"}, "encoding": {"text": {"field": "t"}}}
     ]},
    {"width": 25, "height": 1, "data": {"values": []}, "mark": "point"},
    {"spacing": 0, "vconcat": [
      {"width": 1, "height": 1, "data": {"values": []}, "mark": "point"},
      {"width": 265, "height": 175,
       "encoding": {
         "x": {"field": "x", "type": "quantitative", "scale": {"domain": [0, 1000], "nice": false, "zero": false}, "axis": {"values": [0, 200, 400, 600, 800, 1000], "format": "d", "title": "MLT (pg/ml)"}},
         "y": {"field": "y", "type": "quantitative", "scale": {"domain": [50, 200], "nice": false, "zero": false}, "axis": {"values": [50, 100, 150, 200], "format": "d", "title": "sTREM2 (pg/ml)", "titlePadding": 20}}
       },
       "layer": [
         {"data": {"name": "F_pts"}, "mark": {"type": "circle", "size": 15, "color": "#000", "opacity": 1}},
         {"data": {"name": "F_fit"}, "mark": {"type": "line", "color": "#000", "strokeWidth": 1.2}, "encoding": {}},
         {"data": {"name": "F_ci"}, "mark": {"type": "line", "color": "#000", "strokeWidth": 1, "strokeDash": [1.5, 2]}, "encoding": {"detail": {"field": "band"}}},
         {"data": {"name": "F_txt"}, "mark": {"type": "text", "align": "left", "baseline": "middle", "fontSize": 16, "color": "#231f20"}, "encoding": {"text": {"field": "t"}}}
       ]}
    ]}
  ]},
  {"width": 1, "height": 46, "data": {"values": []}, "mark": "point"},
  {"spacing": 0, "hconcat": [
    {"width": 215, "height": 1, "data": {"values": []}, "mark": "point"},
    {"width": 249, "height": 167,
     "encoding": {
       "x": {"field": "x", "type": "quantitative", "scale": {"domain": [2, 10], "nice": false, "zero": false}, "axis": {"values": [2, 4, 6, 8, 10], "format": "d", "title": "IL-6 (nmol/L)"}},
       "y": {"field": "y", "type": "quantitative", "scale": {"domain": [100, 800], "nice": false, "zero": false}, "axis": {"values": [200, 400, 600, 800], "format": "d", "title": "Total score", "titlePadding": 14}}
     },
     "layer": [
       {"data": {"name": "G_pts"}, "mark": {"type": "circle", "size": 15, "color": "#000", "opacity": 1}},
       {"data": {"name": "G_fit"}, "mark": {"type": "line", "color": "#000", "strokeWidth": 1.2}, "encoding": {}},
       {"data": {"name": "G_ci"}, "mark": {"type": "line", "color": "#000", "strokeWidth": 1, "strokeDash": [1.5, 2]}, "encoding": {"detail": {"field": "band"}}},
       {"data": {"name": "G_txt"}, "mark": {"type": "text", "align": "left", "baseline": "middle", "fontSize": 16, "color": "#231f20"}, "encoding": {"text": {"field": "t"}}}
     ]}
  ]},
  {"width": 1, "height": 25, "data": {"values": []}, "mark": "point"},
  {"spacing": 0, "hconcat": [
    {"width": 215, "height": 1, "data": {"values": []}, "mark": "point"},
    {"width": 249, "height": 165,
     "encoding": {
       "x": {"field": "x", "type": "quantitative", "scale": {"domain": [50, 200], "nice": false, "zero": false}, "axis": {"values": [50, 100, 150, 200], "format": "d", "title": "sTREM2 (pg/ml)"}},
       "y": {"field": "y", "type": "quantitative", "scale": {"domain": [150, 800], "nice": false, "zero": false}, "axis": {"values": [200, 400, 600, 800], "format": "d", "title": "Total score", "titlePadding": 14}}
     },
     "layer": [
       {"data": {"name": "H_pts"}, "mark": {"type": "circle", "size": 15, "color": "#000", "opacity": 1}},
       {"data": {"name": "H_fit"}, "mark": {"type": "line", "color": "#000", "strokeWidth": 1.2}, "encoding": {}},
       {"data": {"name": "H_ci"}, "mark": {"type": "line", "color": "#000", "strokeWidth": 1, "strokeDash": [1.5, 2]}, "encoding": {"detail": {"field": "band"}}},
       {"data": {"name": "H_txt"}, "mark": {"type": "text", "align": "left", "baseline": "middle", "fontSize": 16, "color": "#231f20"}, "encoding": {"text": {"field": "t"}}}
     ]}
  ]},
  {"width": 1, "height": 22, "data": {"values": []}, "mark": "point"},
  {"spacing": 0, "hconcat": [
    {"width": 223, "height": 1, "data": {"values": []}, "mark": "point"},
    {"width": 253, "height": 157,
     "encoding": {
       "x": {"field": "x", "type": "quantitative", "scale": {"domain": [65, 200], "nice": false, "zero": false}, "axis": {"values": [100, 150, 200], "format": "d", "title": "sTREM2 (pg/ml)"}},
       "y": {"field": "y", "type": "quantitative", "scale": {"domain": [0, 30], "nice": false, "zero": false}, "axis": {"values": [0, 10, 20, 30], "format": "d", "title": "CES-D score", "titlePadding": 14}}
     },
     "layer": [
       {"data": {"name": "I_zero"}, "mark": {"type": "rule", "color": "#000", "strokeWidth": 3}, "encoding": {"x2": {"field": "x2"}}},
       {"data": {"name": "I_pts"}, "mark": {"type": "circle", "size": 15, "color": "#000", "opacity": 1}},
       {"data": {"name": "I_fit"}, "mark": {"type": "line", "color": "#000", "strokeWidth": 1.2}, "encoding": {}},
       {"data": {"name": "I_ci"}, "mark": {"type": "line", "color": "#000", "strokeWidth": 1, "strokeDash": [1.5, 2]}, "encoding": {"detail": {"field": "band"}}},
       {"data": {"name": "I_txt"}, "mark": {"type": "text", "align": "left", "baseline": "middle", "fontSize": 16, "color": "#231f20"}, "encoding": {"text": {"field": "t"}}}
     ]}
  ]}
]
}
